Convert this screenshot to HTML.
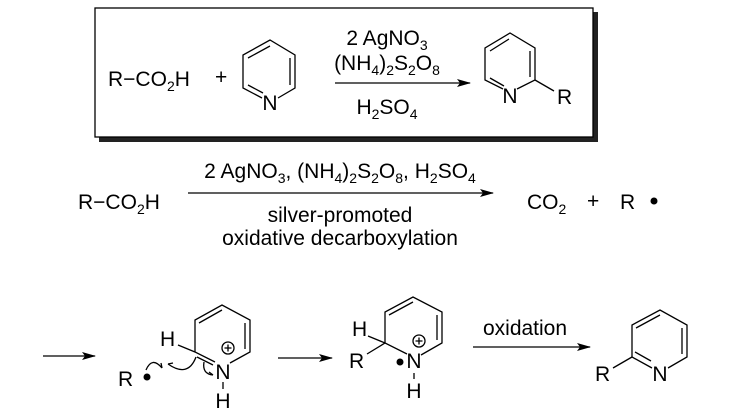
<!DOCTYPE html>
<html><head><meta charset="utf-8"><style>
html,body{margin:0;padding:0;background:#fff;}
svg{display:block;}
text{font-family:"Liberation Sans",Arial,sans-serif;font-size:21px;fill:#000;}
.s{font-size:14px;}
</style></head><body>
<svg width="752" height="413" viewBox="0 0 752 413" xmlns="http://www.w3.org/2000/svg">
<defs>
<marker id="ah" markerWidth="14" markerHeight="8" refX="13" refY="4" orient="auto" markerUnits="userSpaceOnUse">
<path d="M0,0 L14,4 L0,8 L3,4 Z" fill="#000"/></marker>
</defs>
<g stroke="#000" stroke-width="1.3" fill="none">
<rect x="99" y="137" width="499" height="5" fill="#222" stroke="none"/>
<rect x="593" y="12" width="5" height="130" fill="#222" stroke="none"/>
<rect x="95" y="8" width="498" height="129" fill="#fff"/>
<!-- top pyridine -->
<path d="M262,98 L243,88 L243,55 L270,40 L295,55 L295,88 L278,98"/>
<path d="M270,46 L248,58 M290,58 L290,85 M248,85 L263,93"/>
<line x1="335" y1="83" x2="470" y2="83" marker-end="url(#ah)"/>
<!-- top product -->
<path d="M503,89 L485,80 L485,48 L510,33 L535,48 L535,80 L517,89"/>
<path d="M509,39 L490,51 M530,51 L530,77 M490,78 L504,86"/>
<path d="M535,80 L554,91"/>
<line x1="188" y1="193" x2="493" y2="193" marker-end="url(#ah)"/>
<line x1="43" y1="356" x2="95" y2="356" marker-end="url(#ah)"/>
<line x1="278" y1="358" x2="332" y2="358" marker-end="url(#ah)"/>
<line x1="473" y1="347" x2="590" y2="347" marker-end="url(#ah)"/>
<!-- pyridinium 1 -->
<path d="M215,362 L195,352 L195,320 L222,305 L250,320 L250,352 L230,363"/>
<path d="M199,323 L222,310 M245,323 L245,349 M197,357 L213,365"/>
<path d="M195,352 L178,345"/>
<circle cx="228" cy="348" r="6"/>
<path d="M228,344.5 v7 M224.5,348 h7"/>
<line x1="223" y1="382" x2="223" y2="389"/>
<path d="M146,370 Q152,356 162,368"/>
<path d="M162,368 l-1,-5"/>
<path d="M196,357 Q188,378 168,364"/>
<path d="M168,364 l5,-1"/>
<path d="M204,362 Q202,374 213,375"/>
<path d="M213,375 l-4,-3"/>
<!-- intermediate -->
<path d="M407,354 L385,343 L385,312 L413,297 L442,312 L442,343 L421,355"/>
<path d="M389,315 L413,302 M437,315 L437,340"/>
<path d="M385,343 L368,336 M385,343 L367,354"/>
<circle cx="419" cy="341" r="6"/>
<path d="M419,337.5 v7 M415.5,341 h7"/>
<line x1="414" y1="373" x2="414" y2="379"/>
<!-- final product -->
<path d="M652,368 L632,357 L632,325 L660,310 L687,325 L687,357 L668,368"/>
<path d="M636,328 L660,315 M682,328 L682,354 M635,352 L651,361"/>
<path d="M632,357 L613,368"/>
</g>
<g>
<text x="108" y="86">R−CO<tspan class="s" dy="5">2</tspan><tspan dy="-5">H</tspan></text>
<text x="215" y="84">+</text>
<text x="270" y="110" text-anchor="middle">N</text>
<text x="387" y="45" text-anchor="middle">2 AgNO<tspan class="s" dy="5">3</tspan></text>
<text x="387" y="70" text-anchor="middle">(NH<tspan class="s" dy="5">4</tspan><tspan dy="-5">)</tspan><tspan class="s" dy="5">2</tspan><tspan dy="-5">S</tspan><tspan class="s" dy="5">2</tspan><tspan dy="-5">O</tspan><tspan class="s" dy="5">8</tspan></text>
<text x="387" y="114" text-anchor="middle">H<tspan class="s" dy="5">2</tspan><tspan dy="-5">SO</tspan><tspan class="s" dy="5">4</tspan></text>
<text x="510" y="103" text-anchor="middle">N</text>
<text x="557" y="104">R</text>
<text x="78" y="209">R−CO<tspan class="s" dy="5">2</tspan><tspan dy="-5">H</tspan></text>
<text x="340" y="178" text-anchor="middle">2 AgNO<tspan class="s" dy="5">3</tspan><tspan dy="-5">, (NH</tspan><tspan class="s" dy="5">4</tspan><tspan dy="-5">)</tspan><tspan class="s" dy="5">2</tspan><tspan dy="-5">S</tspan><tspan class="s" dy="5">2</tspan><tspan dy="-5">O</tspan><tspan class="s" dy="5">8</tspan><tspan dy="-5">, H</tspan><tspan class="s" dy="5">2</tspan><tspan dy="-5">SO</tspan><tspan class="s" dy="5">4</tspan></text>
<text x="340" y="222" text-anchor="middle">silver-promoted</text>
<text x="340" y="245" text-anchor="middle">oxidative decarboxylation</text>
<text x="527" y="209">CO<tspan class="s" dy="5">2</tspan></text>
<text x="587" y="208">+</text>
<text x="620" y="209">R</text>
<circle cx="654" cy="201" r="3.5" fill="#000"/>
<text x="118" y="386">R</text>
<circle cx="147" cy="377" r="3.5" fill="#000"/>
<text x="160" y="346">H</text>
<text x="223" y="379" text-anchor="middle">N</text>
<text x="223" y="408" text-anchor="middle">H</text>
<text x="352" y="336">H</text>
<text x="349" y="368">R</text>
<circle cx="400" cy="362" r="3.5" fill="#000"/>
<text x="414" y="368" text-anchor="middle">N</text>
<text x="414" y="398" text-anchor="middle">H</text>
<text x="525" y="335" text-anchor="middle">oxidation</text>
<text x="660" y="381" text-anchor="middle">N</text>
<text x="595" y="381">R</text>
</g>
</svg>
</body></html>
